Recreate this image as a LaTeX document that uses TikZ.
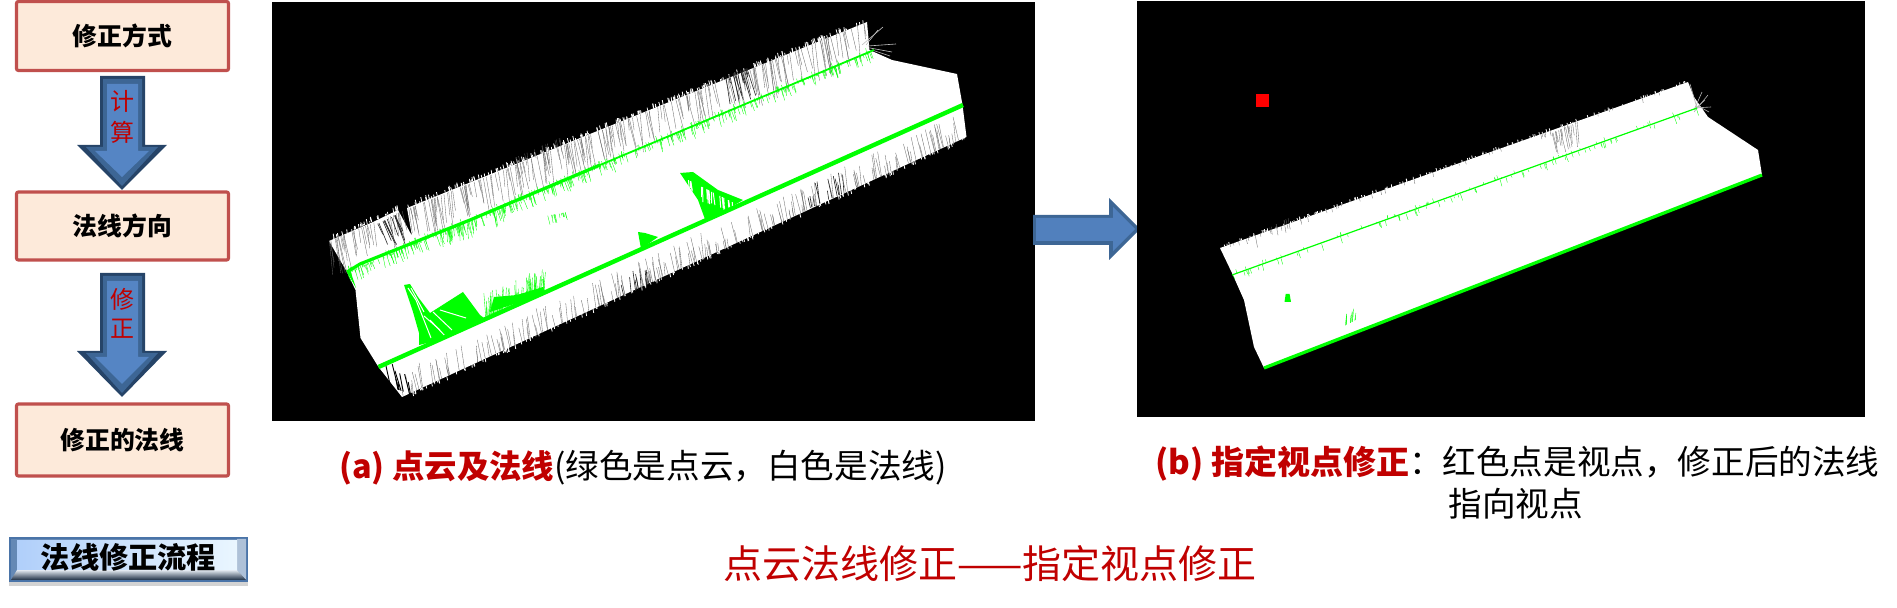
\documentclass[tikz,border=0pt]{standalone}
\usepackage{fontspec}
\setmainfont{Noto Sans CJK SC}
\usetikzlibrary{shadows}
\definecolor{boxfill}{HTML}{FDEADA}
\definecolor{boxline}{HTML}{C0504D}
\definecolor{darkred}{HTML}{C00000}
\definecolor{cloud}{HTML}{00FF00}
\definecolor{arrowa}{HTML}{264468}
\definecolor{arrowb}{HTML}{3D6695}
\definecolor{arrowc}{HTML}{5585C4}
\definecolor{barline}{HTML}{4A74A8}
\definecolor{barleft}{HTML}{B0CFFA}
\definecolor{barright}{HTML}{EAF6FF}
\tikzset{
    stepbox/.style={draw=boxline,fill=boxfill,line width=1.6pt,rounded corners=1pt,minimum width=106pt,font=\fontsize{12.4pt}{14pt}\selectfont\bfseries},
    arrowtext/.style={text=darkred,inner sep=0pt,font=\fontsize{12pt}{14pt}\selectfont},
    caption/.style={anchor=west,inner sep=0pt,font=\fontsize{16.8pt}{19pt}\selectfont},
    hair/.style={line width=0.16pt,black!60},
    darkhair/.style={line width=0.3pt,black!85},
    edgehair/.style={line width=0.4pt,white},
    sprig/.style={line width=0.18pt,cloud},
}
% hairs from (#1,#2) to (#3,#4): count, length, lean, style
\newcommand{\fringe}[8]{
    \foreach \i in {1,...,#5} {
        \pgfmathsetmacro\hpos{rnd}
        \pgfmathsetmacro\hlen{#6*(0.25+0.75*rnd)}
        \pgfmathsetmacro\hlean{#7+0.2*(rnd-0.5)}
        \draw[#8] ({#1+\hpos*(#3-#1)},{#2+\hpos*(#4-#2)}) -- ++({\hlean*\hlen},\hlen);
    }
}
\begin{document}
\begin{tikzpicture}[x=0.5pt,y=-0.5pt]
    \useasboundingbox (0,0) rectangle (1897,608);
    \pgfmathsetseed{1234}
    % flow on the left
    \node[stepbox,minimum height=34.5pt] (boxWay) at (122.5,36) {修正方式};
    \node[stepbox,minimum height=34pt] (boxDir) at (122.5,226) {法线方向};
    \node[stepbox,minimum height=36pt] (boxFixed) at (122.5,440) {修正的法线};
    \foreach \t/\h/\p/\ya/\yb/\ta/\tb in {76/145/190/101/132/计/算, 273/351/397/299/329/修/正} {
        \fill[arrowa] (100,\t) -- (145,\t) -- (145,\h) -- (167,\h) -- (122,\p) -- (77,\h) -- (100,\h) -- cycle;
        \fill[arrowb] (103,\t+3) -- (142,\t+3) -- (142,\h+2) -- (158,\h+2) -- (122,\p-4) -- (86,\h+2) -- (103,\h+2) -- cycle;
        \fill[arrowc] (107,\t+8) -- (138,\t+8) -- (138,\h+6) -- (149,\h+6) -- (122,\p-13) -- (95,\h+6) -- (107,\h+6) -- cycle;
        \node[arrowtext] at (122,\ya) {\ta};
        \node[arrowtext] at (122,\yb) {\tb};
    }
    % bevelled title of the flow
    \fill[barline,drop shadow={shadow xshift=0pt,shadow yshift=-2pt,opacity=0.35}] (9,537) rectangle (248,582);
    \fill[barline!85] (11,539) rectangle (246,580);
    \fill[barline!45] (237,539) -- (246,539) -- (246,580) -- (237,570) -- cycle;
    \shade[top color=white!85!barline,bottom color=black!60!barline] (17,570) -- (237,570) -- (246,580) -- (11,580) -- cycle;
    \shade[left color=barleft,right color=barright] (17,541) rectangle (237,570);
    \node[inner sep=0pt,font=\fontsize{14.6pt}{16pt}\selectfont\bfseries] (barTitle) at (128.5,557) {法线修正流程};
    % panel (a)
    \fill[black] (272,2) rectangle (1035,421);
    \fill[white] (329,241) -- (373,222) -- (398,210) -- (412,236) -- (407,208) -- (867,22) -- (869.5,50) -- (892,60) -- (957,74) -- (962.5,105) -- (966.5,137) -- (402,397) -- (378.5,367) -- (360.5,338) -- (355.5,290) -- (347,272) -- cycle;
    \fringe{329}{241}{398}{210}{30}{-5}{0.2}{edgehair}
    \fringe{407}{208}{867}{22}{220}{-5}{0.2}{edgehair}
    \fringe{402}{397}{966}{137}{160}{4}{0.2}{edgehair}
    \fringe{329}{241}{867}{22}{230}{38}{0.18}{hair}
    \fringe{377}{224}{396}{215}{12}{30}{0.45}{darkhair}
    \fringe{724}{77}{750}{67}{16}{30}{0.25}{darkhair}
    \fringe{510}{160}{560}{138}{14}{30}{0.15}{hair}
    \fringe{402}{397}{966}{137}{190}{-25}{0.18}{hair}
    \fringe{386}{385}{412}{395}{9}{-26}{0.22}{line width=0.45pt,black}
    \fringe{620}{298}{650}{284}{12}{-22}{0.15}{darkhair}
    \fringe{810}{208}{850}{190}{12}{-24}{0.15}{darkhair}
    \foreach \xa/\ya/\xb/\yb in {862/45/883/27, 866/45/878/30, 870/48/892/52, 872/50/890/56, 868/46/896/44} {
        \draw[line width=0.3pt,black!25] (\xa,\ya) -- (\xb,\yb);
    }
    \draw[cloud,line width=1.6pt] (347,272) -- (360,264) -- (470,220) -- (600,165);
    \draw[cloud,line width=0.9pt] (600,165) -- (874,50);
    \fringe{347}{272}{874}{50}{260}{12}{0.3}{sprig}
    \fringe{347}{274}{874}{52}{180}{-7}{0.3}{sprig}
    \fringe{440}{232}{520}{200}{40}{18}{0.1}{sprig}
    \fill[cloud] (347,272) -- (350,270) -- (356,288) -- cycle;
    \fill[cloud] (419,345) -- (419,333) -- (413,312) -- (404,285) -- (410,284) -- (418,297) -- (430,313) -- (463,292) -- (480,315) -- (484,318) -- (440,340) -- cycle;
    \foreach \xa/\ya/\xb/\yb in {416/300/431/338, 424/316/440/330, 433/312/452/330, 440/310/466/318, 430/320/447/338, 411/288/424/312, 408/288/416/300} {
        \draw[white,line width=0.5pt] (\xa,\ya) -- (\xb,\yb);
    }
    \fringe{484}{320}{545}{292}{80}{-26}{0}{sprig}
    \fill[cloud] (490,312) -- (494,297) -- (517,295) -- (543,287) -- (545,294) -- cycle;
    \fill[cloud] (638,232) -- (645,233) -- (658,237) -- (641,249) -- cycle;
    \fill[cloud] (680,173) -- (693,172) -- (718,190) -- (743,200) -- (706,222) -- (698,200) -- cycle;
    \fringe{688}{180}{738}{205}{22}{16}{0.1}{white,line width=0.5pt}
    \fringe{546}{216}{568}{212}{14}{9}{0.2}{sprig}
    \draw[cloud,line width=2.2pt] (378.5,367) -- (963,105);
    % arrow between the panels
    \fill[arrowb] (1033,215) -- (1109,215) -- (1109,198) -- (1140,229) -- (1109,260) -- (1109,245) -- (1033,245) -- cycle;
    \fill[arrowc!85!arrowb] (1036,218) -- (1113,218) -- (1113,207) -- (1135,229) -- (1113,251) -- (1113,241) -- (1036,241) -- cycle;
    % panel (b)
    \fill[black] (1137,1) rectangle (1865,417);
    \fill[white] (1220,248) -- (1688,82) -- (1694,97) -- (1708,117) -- (1758,150) -- (1762,175) -- (1264,368) -- (1254,347) -- (1244,300) -- (1232,273) -- cycle;
    \fill[red] (1256,94) rectangle (1269,107);
    \fringe{1220}{248}{1688}{82}{120}{-3}{0.2}{edgehair}
    \fringe{1220}{248}{1688}{82}{40}{5}{0.2}{hair}
    \fringe{1240}{243}{1290}{217}{10}{14}{0.2}{hair}
    \fringe{1552}{133}{1578}{122}{18}{24}{0.15}{hair}
    \foreach \xa/\ya/\xb/\yb in {1690/84/1697/108, 1702/92/1694/110, 1708/95/1694/112, 1711/107/1695/108, 1705/100/1694/110, 1709/112/1698/106} {
        \draw[line width=0.3pt,black!30] (\xa,\ya) -- (\xb,\yb);
    }
    \draw[cloud,line width=0.6pt] (1232,275) -- (1697,108);
    \fringe{1232}{276}{1697}{109}{70}{7}{0.3}{sprig}
    \fringe{1232}{275}{1697}{108}{50}{-4}{0.3}{sprig}
    \fill[cloud] (1285.7,294) -- (1289.6,294) -- (1291,302) -- (1284.5,302) -- cycle;
    \fringe{1340}{328}{1356}{320}{10}{-14}{-0.1}{sprig}
    \draw[cloud,line width=1.6pt] (1264,368) -- (1762,175);
    % captions
    \node[caption] (capA) at (339,468) {\textcolor{darkred}{\fontsize{16.2pt}{19pt}\selectfont\bfseries (a) 点云及法线}(绿色是点云，白色是法线)};
    \node[caption] (capB) at (1155,464) {\textcolor{darkred}{\fontsize{16.5pt}{19pt}\selectfont\bfseries (b) 指定视点修正}：红色点是视点，修正后的法线};
    \node[caption] (capBnext) at (1448,504) {指向视点};
    \node[text=darkred,inner sep=0pt,font=\fontsize{19.5pt}{22pt}\selectfont] (mainTitle) at (990,564) {点云法线修正——指定视点修正};
\end{tikzpicture}
\end{document}
